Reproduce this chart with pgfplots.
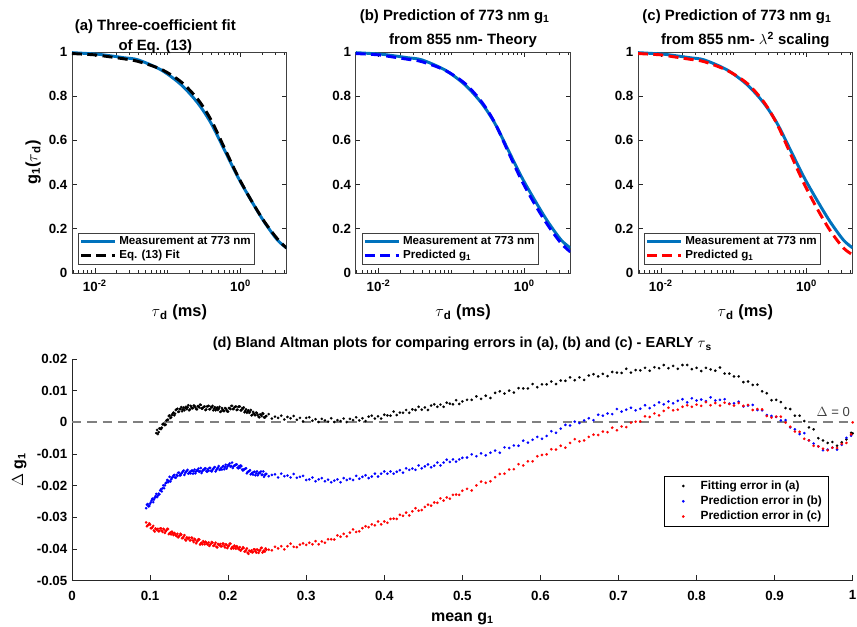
\documentclass[border=0pt]{standalone}
\usepackage{pgfplots}
\pgfplotsset{compat=1.18}
\usepackage{pgfplotstable}
\usepackage{fontspec}
\setmainfont{Liberation Sans}
\definecolor{mblue}{rgb}{0,0.447,0.741}
\definecolor{axgray}{rgb}{0.15,0.15,0.15}

% measured and predicted g1 curves (tau in ms)
\pgfplotstableread{
tau      meas   fita   predb  predc
0.00485  0.997  0.993  0.993  0.993
0.01     0.991  0.987  0.987  0.987
0.01384  0.986  0.981  0.980  0.980
0.02512  0.974  0.969  0.967  0.967
0.03945  0.964  0.957  0.956  0.956
0.0820   0.918  0.921  0.917  0.916
0.1538   0.851  0.864  0.857  0.857
0.2600   0.768  0.785  0.774  0.773
0.3945   0.677  0.692  0.679  0.673
0.5998   0.557  0.566  0.549  0.540
0.912    0.436  0.440  0.421  0.408
1.387    0.330  0.331  0.312  0.293
2.104    0.232  0.234  0.216  0.192
3.206    0.149  0.154  0.134  0.113
4.295    0.113  0.112  0.095  0.082
}\curves

% Bland-Altman: mean g1, error (a), error (b), error (c)
\pgfplotstableread{
x a b c
0.095 nan -0.0271 -0.0316
0.097 nan -0.0258 -0.0325
0.099 nan -0.0264 -0.0319
0.101 nan -0.0252 -0.0334
0.103 nan -0.0241 -0.0331
0.105 nan -0.0244 -0.0341
0.107 nan -0.0233 -0.0335
0.109 -0.0024 -0.0236 -0.0340
0.111 -0.0031 -0.0225 -0.0344
0.113 -0.0020 -0.0215 -0.0335
0.115 -0.0017 -0.0218 -0.0342
0.117 -0.0004 -0.0199 -0.0336
0.119 -0.0009 -0.0199 -0.0349
0.121 0.0006 -0.0190 -0.0341
0.123 0.0008 -0.0189 -0.0337
0.125 0.0022 -0.0172 -0.0350
0.127 0.0016 -0.0180 -0.0354
0.129 0.0027 -0.0173 -0.0350
0.131 0.0022 -0.0166 -0.0349
0.133 0.0039 -0.0175 -0.0357
0.135 0.0043 -0.0169 -0.0352
0.137 0.0034 -0.0159 -0.0360
0.139 0.0042 -0.0167 -0.0352
0.141 0.0035 -0.0159 -0.0366
0.143 0.0047 -0.0152 -0.0361
0.145 0.0045 -0.0160 -0.0370
0.147 0.0042 -0.0154 -0.0363
0.149 0.0054 -0.0162 -0.0367
0.151 0.0041 -0.0156 -0.0373
0.153 0.0048 -0.0153 -0.0364
0.155 0.0045 -0.0162 -0.0373
0.157 0.0052 -0.0149 -0.0368
0.159 0.0042 -0.0155 -0.0382
0.161 0.0051 -0.0152 -0.0374
0.163 0.0047 -0.0156 -0.0370
0.165 0.0055 -0.0144 -0.0382
0.167 0.0043 -0.0154 -0.0385
0.169 0.0049 -0.0150 -0.0379
0.171 0.0039 -0.0145 -0.0377
0.173 0.0050 -0.0156 -0.0384
0.175 0.0052 -0.0153 -0.0379
0.177 0.0042 -0.0144 -0.0386
0.179 0.0047 -0.0155 -0.0378
0.181 0.0038 -0.0147 -0.0390
0.183 0.0048 -0.0141 -0.0385
0.185 0.0043 -0.0150 -0.0393
0.187 0.0039 -0.0143 -0.0384
0.189 0.0049 -0.0150 -0.0388
0.191 0.0035 -0.0144 -0.0392
0.193 0.0040 -0.0140 -0.0383
0.195 0.0036 -0.0148 -0.0390
0.197 0.0044 -0.0134 -0.0385
0.199 0.0034 -0.0140 -0.0397
0.201 0.0045 -0.0135 -0.0389
0.203 0.0042 -0.0140 -0.0383
0.205 0.0052 -0.0127 -0.0395
0.207 0.0042 -0.0139 -0.0398
0.209 0.0049 -0.0136 -0.0393
0.211 0.0039 -0.0133 -0.0391
0.213 0.0049 -0.0145 -0.0399
0.215 0.0050 -0.0143 -0.0394
0.217 0.0038 -0.0138 -0.0402
0.219 0.0043 -0.0152 -0.0394
0.221 0.0032 -0.0148 -0.0408
0.223 0.0041 -0.0145 -0.0403
0.225 0.0035 -0.0157 -0.0412
0.227 0.0030 -0.0154 -0.0405
0.229 0.0039 -0.0164 -0.0408
0.231 0.0024 -0.0159 -0.0411
0.233 0.0028 -0.0157 -0.0401
0.235 0.0023 -0.0167 -0.0407
0.237 0.0029 -0.0155 -0.0401
0.239 0.0017 -0.0162 -0.0412
0.241 0.0025 -0.0160 -0.0403
0.243 0.0020 -0.0166 -0.0396
0.245 0.0027 -0.0155 -0.0407
0.247 0.0015 -0.0167 -0.0408
0.249 0.0020 -0.0163 -0.0402
0.252 0.0026 -0.0170 -0.0402
0.256 0.0012 -0.0166 -0.0404
0.260 0.0018 -0.0164 -0.0393
0.264 0.0014 -0.0174 -0.0398
0.268 0.0021 -0.0162 -0.0391
0.272 0.0009 -0.0170 -0.0401
0.276 0.0017 -0.0168 -0.0391
0.280 0.0013 -0.0174 -0.0383
0.284 0.0020 -0.0163 -0.0393
0.288 0.0008 -0.0175 -0.0394
0.292 0.0014 -0.0172 -0.0386
0.296 0.0003 -0.0169 -0.0382
0.300 0.0014 -0.0182 -0.0387
0.304 0.0016 -0.0180 -0.0380
0.308 0.0005 -0.0174 -0.0385
0.312 0.0010 -0.0186 -0.0375
0.316 0.0001 -0.0180 -0.0385
0.320 0.0011 -0.0176 -0.0376
0.324 0.0006 -0.0186 -0.0380
0.328 0.0002 -0.0181 -0.0369
0.332 0.0013 -0.0189 -0.0369
0.336 0.0001 -0.0184 -0.0370
0.340 0.0007 -0.0180 -0.0357
0.344 0.0004 -0.0189 -0.0361
0.348 0.0012 -0.0176 -0.0352
0.352 0.0001 -0.0182 -0.0360
0.356 0.0011 -0.0178 -0.0348
0.360 0.0007 -0.0182 -0.0338
0.364 0.0016 -0.0169 -0.0346
0.368 0.0006 -0.0178 -0.0344
0.372 0.0013 -0.0172 -0.0334
0.376 0.0004 -0.0167 -0.0328
0.380 0.0018 -0.0176 -0.0331
0.384 0.0021 -0.0171 -0.0322
0.388 0.0012 -0.0162 -0.0325
0.392 0.0019 -0.0171 -0.0313
0.396 0.0012 -0.0162 -0.0322
0.400 0.0024 -0.0155 -0.0313
0.404 0.0022 -0.0162 -0.0317
0.408 0.0021 -0.0155 -0.0305
0.412 0.0034 -0.0162 -0.0304
0.416 0.0023 -0.0156 -0.0305
0.420 0.0031 -0.0151 -0.0292
0.424 0.0030 -0.0159 -0.0295
0.428 0.0039 -0.0145 -0.0285
0.432 0.0030 -0.0150 -0.0294
0.436 0.0041 -0.0146 -0.0281
0.440 0.0039 -0.0150 -0.0271
0.444 0.0049 -0.0136 -0.0279
0.448 0.0040 -0.0145 -0.0277
0.452 0.0047 -0.0139 -0.0267
0.456 0.0039 -0.0133 -0.0260
0.460 0.0053 -0.0142 -0.0263
0.464 0.0057 -0.0137 -0.0253
0.468 0.0049 -0.0127 -0.0254
0.472 0.0056 -0.0136 -0.0240
0.476 0.0049 -0.0127 -0.0247
0.480 0.0062 -0.0118 -0.0237
0.484 0.0059 -0.0125 -0.0241
0.488 0.0057 -0.0117 -0.0229
0.492 0.0070 -0.0124 -0.0228
0.496 0.0058 -0.0117 -0.0229
0.500 0.0066 -0.0112 -0.0216
0.506 0.0071 -0.0111 -0.0210
0.512 0.0071 -0.0101 -0.0215
0.518 0.0082 -0.0107 -0.0199
0.524 0.0074 -0.0098 -0.0187
0.530 0.0084 -0.0104 -0.0191
0.536 0.0077 -0.0096 -0.0186
0.542 0.0093 -0.0089 -0.0173
0.548 0.0098 -0.0096 -0.0163
0.554 0.0091 -0.0079 -0.0162
0.560 0.0100 -0.0081 -0.0149
0.566 0.0094 -0.0073 -0.0148
0.572 0.0108 -0.0074 -0.0132
0.578 0.0107 -0.0058 -0.0136
0.584 0.0107 -0.0064 -0.0123
0.590 0.0121 -0.0055 -0.0123
0.596 0.0111 -0.0046 -0.0107
0.602 0.0120 -0.0052 -0.0103
0.608 0.0120 -0.0043 -0.0101
0.614 0.0129 -0.0028 -0.0085
0.620 0.0121 -0.0033 -0.0086
0.626 0.0132 -0.0020 -0.0074
0.632 0.0131 -0.0008 -0.0080
0.638 0.0142 -0.0010 -0.0065
0.644 0.0133 0.0002 -0.0053
0.650 0.0142 -0.0002 -0.0060
0.656 0.0134 0.0006 -0.0057
0.662 0.0148 0.0013 -0.0046
0.668 0.0152 0.0007 -0.0039
0.674 0.0145 0.0024 -0.0040
0.680 0.0153 0.0021 -0.0029
0.686 0.0146 0.0028 -0.0031
0.692 0.0159 0.0026 -0.0017
0.698 0.0157 0.0042 -0.0025
0.704 0.0156 0.0034 -0.0013
0.710 0.0169 0.0040 -0.0015
0.716 0.0157 0.0046 -0.0001
0.722 0.0165 0.0038 0.0002
0.728 0.0164 0.0043 0.0003
0.734 0.0172 0.0054 0.0019
0.740 0.0163 0.0045 0.0017
0.746 0.0174 0.0054 0.0028
0.752 0.0171 0.0063 0.0022
0.758 0.0181 0.0057 0.0036
0.764 0.0171 0.0066 0.0046
0.770 0.0178 0.0060 0.0038
0.776 0.0169 0.0068 0.0040
0.782 0.0181 0.0073 0.0049
0.788 0.0181 0.0063 0.0054
0.794 0.0168 0.0076 0.0049
0.800 0.0172 0.0069 0.0056
0.806 0.0162 0.0072 0.0052
0.812 0.0172 0.0067 0.0064
0.818 0.0167 0.0079 0.0054
0.824 0.0163 0.0069 0.0061
0.830 0.0173 0.0071 0.0053
0.836 0.0154 0.0073 0.0062
0.842 0.0154 0.0059 0.0058
0.848 0.0145 0.0060 0.0053
0.854 0.0145 0.0065 0.0061
0.860 0.0127 0.0050 0.0052
0.866 0.0129 0.0053 0.0055
0.872 0.0118 0.0055 0.0039
0.878 0.0119 0.0039 0.0042
0.884 0.0098 0.0038 0.0041
0.890 0.0092 0.0023 0.0020
0.896 0.0070 0.0020 0.0015
0.902 0.0071 0.0017 0.0018
0.908 0.0064 0.0006 0.0018
0.914 0.0045 0.0007 -0.0001
0.920 0.0042 -0.0016 -0.0014
0.926 0.0021 -0.0022 -0.0029
0.932 0.0021 -0.0037 -0.0030
0.938 0.0004 -0.0034 -0.0052
0.944 -0.0016 -0.0057 -0.0057
0.950 -0.0022 -0.0067 -0.0074
0.956 -0.0050 -0.0076 -0.0076
0.962 -0.0057 -0.0088 -0.0083
0.968 -0.0065 -0.0086 -0.0088
0.974 -0.0062 -0.0080 -0.0080
0.980 -0.0074 -0.0086 -0.0081
0.986 -0.0063 -0.0071 -0.0068
0.992 -0.0054 -0.0049 -0.0065
0.998 -0.0033 -0.0042 -0.0038
1.000 -0.0035 nan 0.0000
0.096 nan -0.0260 -0.0328
0.098 nan -0.0265 -0.0323
0.100 nan -0.0257 -0.0323
0.102 nan -0.0246 -0.0334
0.104 nan -0.0252 -0.0327
0.106 nan -0.0238 -0.0345
0.108 -0.0034 -0.0226 -0.0338
0.110 -0.0037 -0.0231 -0.0336
0.112 -0.0019 -0.0227 -0.0343
0.114 -0.0021 -0.0211 -0.0335
0.116 -0.0006 -0.0208 -0.0346
0.118 -0.0007 -0.0208 -0.0339
0.120 -0.0007 -0.0192 -0.0344
0.122 0.0008 -0.0182 -0.0336
0.124 0.0020 -0.0185 -0.0353
0.126 0.0014 -0.0187 -0.0348
0.128 0.0023 -0.0175 -0.0345
0.130 0.0031 -0.0168 -0.0356
0.132 0.0027 -0.0174 -0.0352
0.134 0.0041 -0.0166 -0.0359
0.136 0.0033 -0.0159 -0.0363
0.138 0.0042 -0.0167 -0.0357
0.140 0.0048 -0.0162 -0.0355
0.142 0.0041 -0.0155 -0.0365
0.144 0.0038 -0.0166 -0.0356
0.146 0.0049 -0.0156 -0.0373
0.148 0.0047 -0.0150 -0.0366
0.150 0.0038 -0.0160 -0.0364
0.152 0.0052 -0.0161 -0.0372
0.154 0.0044 -0.0152 -0.0365
0.156 0.0053 -0.0155 -0.0378
0.158 0.0047 -0.0161 -0.0371
0.160 0.0041 -0.0151 -0.0377
0.162 0.0050 -0.0146 -0.0369
0.164 0.0056 -0.0154 -0.0386
0.166 0.0044 -0.0160 -0.0380
0.168 0.0047 -0.0150 -0.0375
0.170 0.0050 -0.0146 -0.0385
0.172 0.0041 -0.0154 -0.0380
0.174 0.0051 -0.0148 -0.0386
0.176 0.0041 -0.0144 -0.0390
0.178 0.0049 -0.0153 -0.0383
0.180 0.0052 -0.0150 -0.0380
0.182 0.0043 -0.0143 -0.0389
0.184 0.0038 -0.0155 -0.0380
0.186 0.0047 -0.0146 -0.0395
0.188 0.0043 -0.0138 -0.0387
0.190 0.0033 -0.0148 -0.0384
0.192 0.0045 -0.0149 -0.0391
0.194 0.0036 -0.0138 -0.0383
0.196 0.0045 -0.0141 -0.0395
0.198 0.0039 -0.0146 -0.0387
0.200 0.0034 -0.0135 -0.0392
0.202 0.0045 -0.0130 -0.0383
0.204 0.0052 -0.0138 -0.0399
0.206 0.0042 -0.0144 -0.0393
0.208 0.0047 -0.0136 -0.0389
0.210 0.0050 -0.0133 -0.0399
0.212 0.0040 -0.0143 -0.0394
0.214 0.0050 -0.0138 -0.0401
0.216 0.0038 -0.0136 -0.0405
0.218 0.0045 -0.0149 -0.0399
0.220 0.0047 -0.0149 -0.0397
0.222 0.0036 -0.0146 -0.0407
0.224 0.0030 -0.0161 -0.0398
0.226 0.0038 -0.0155 -0.0415
0.228 0.0033 -0.0151 -0.0407
0.230 0.0022 -0.0162 -0.0404
0.232 0.0033 -0.0165 -0.0409
0.234 0.0023 -0.0156 -0.0401
0.236 0.0031 -0.0161 -0.0411
0.238 0.0023 -0.0167 -0.0403
0.240 0.0016 -0.0159 -0.0406
0.242 0.0024 -0.0155 -0.0397
0.244 0.0029 -0.0165 -0.0411
0.246 0.0016 -0.0172 -0.0404
0.248 0.0019 -0.0163 -0.0398
}\scat

\pgfplotsset{
  dotlegend/.style={legend image code/.code={%
    \path[draw=none, fill=none] (0pt,-1pt) rectangle (22pt,1pt);
    \draw[mark repeat=2,mark phase=2,##1] plot coordinates {(0pt,0pt) (11pt,0pt) (22pt,0pt)};}},
  topax/.style={
    scale only axis, width=161pt, height=165.75pt,
    xmin=0.00485, xmax=4.3, ymin=-0.0005, ymax=1,
    xtick={0.01,1},
    xticklabels={10\textsuperscript{-2},10\textsuperscript{0}},
    minor xtick={0.005,0.006,0.007,0.008,0.009,0.02,0.03,0.04,0.05,0.06,0.07,0.08,0.09,0.1,0.2,0.3,0.4,0.5,0.6,0.7,0.8,0.9,2,3,4},
    ytick={0,0.2,0.4,0.6,0.8,1},
    yticklabels={0,0.2,0.4,0.6,0.8,1},
    tick align=inside,
    major tick length=3.5pt, minor tick length=2pt,
    tick style={axgray, line width=0.5pt},
    axis line style={black!75, line width=0.6pt},
    ticklabel style={font=\bfseries\fontsize{10}{12}\selectfont, text=black},
    xticklabel style={yshift=-1.5pt},
    title style={font=\bfseries\fontsize{11.2}{15.5}\selectfont, align=center},
    label style={font=\bfseries\fontsize{12.3}{14}\selectfont},
    xlabel={$\tau$\textsubscript{d} (ms)},
    xlabel style={yshift=-3pt},
    legend style={at={(axis description cs:0.028,0.036)}, anchor=south west,
      draw=black!75, line width=0.5pt, fill=white,
      font=\bfseries\fontsize{8.7}{10}\selectfont,
      inner xsep=1pt, inner ysep=1pt, row sep=-1.5pt},
    legend cell align=left,
    legend image code/.code={\draw[##1] (0pt,0pt) -- (25.5pt,0pt);},
  },
}

\begin{document}
\begin{tikzpicture}
\path[use as bounding box] (0,0) rectangle (642.75pt,470.25pt);

% (a)
\begin{axis}[xmode=log, topax, at={(54pt,265.5pt)}, anchor=south west,
  title style={yshift=-11pt, xshift=-18pt},
  title={(a) Three-coefficient fit\\of Eq. (13)},
  ylabel={g\textsubscript{1}($\tau$\textsubscript{d})},
  ylabel style={yshift=-1pt}]
\addplot[mblue, line width=2.2pt, smooth] table[x=tau, y=meas] {\curves};
\addlegendentry{Measurement at 773 nm}
\addplot[black, line width=2.2pt, dash pattern=on 7.5pt off 4pt, smooth] table[x=tau, y=fita] {\curves};
\addlegendentry{Eq. (13) Fit}
\end{axis}

% (b)
\begin{axis}[xmode=log, topax, at={(266.8pt,265.5pt)}, anchor=south west,
  title style={yshift=-6.5pt},
  title={\hspace*{-12.5pt}(b) Prediction of 773 nm g\textsubscript{1}\\[3pt]from 855 nm- Theory}]
\addplot[mblue, line width=2.2pt, smooth] table[x=tau, y=meas] {\curves};
\addlegendentry{Measurement at 773 nm}
\addplot[blue, line width=2.2pt, dash pattern=on 7.5pt off 4pt, smooth] table[x=tau, y=predb] {\curves};
\addlegendentry{Predicted g\textsubscript{1}}
\end{axis}

% (c)
\begin{axis}[xmode=log, topax, at={(478.5pt,265.5pt)}, anchor=south west,
  title style={yshift=-6.5pt},
  title={\hspace*{-12.5pt}(c) Prediction of 773 nm g\textsubscript{1}\\[3pt]from 855 nm- $\lambda$\textsuperscript{2} scaling}]
\addplot[mblue, line width=2.2pt, smooth] table[x=tau, y=meas] {\curves};
\addlegendentry{Measurement at 773 nm}
\addplot[red, line width=2.2pt, dash pattern=on 7.5pt off 4pt, smooth] table[x=tau, y=predc] {\curves};
\addlegendentry{Predicted g\textsubscript{1}}
\end{axis}

% (d)
\begin{axis}[scale only axis, at={(54pt,34.7pt)}, anchor=south west,
  width=585.5pt, height=166.3pt,
  xmin=0, xmax=1, ymin=-0.05, ymax=0.02,
  scaled y ticks=false, scaled x ticks=false,
  axis x line*=bottom, axis y line*=left,
  axis line style={axgray, line width=0.6pt},
  xtick={0,0.1,0.2,0.3,0.4,0.5,0.6,0.7,0.8,0.9,1},
  xticklabels={0,0.1,0.2,0.3,0.4,0.5,0.6,0.7,0.8,0.9,1},
  ytick={-0.05,-0.04,-0.03,-0.02,-0.01,0,0.01,0.02},
  yticklabels={-0.05,-0.04,-0.03,-0.02,-0.01,0,0.01,0.02},
  tick align=inside, major tick length=4pt,
  tick style={axgray, line width=0.5pt},
  ticklabel style={font=\bfseries\fontsize{10}{12}\selectfont},
  xticklabel style={yshift=-4pt},
  title style={font=\bfseries\fontsize{10.9}{12}\selectfont, yshift=-3.5pt},
  label style={font=\bfseries\fontsize{12}{14}\selectfont},
  title={(d) Bland Altman plots for comparing errors in (a), (b) and (c) - EARLY $\tau$\textsubscript{s}},
  xlabel={mean g\textsubscript{1}},
  ylabel={$\Delta$ g\textsubscript{1}},
  xlabel style={yshift=-2.5pt},
  ylabel style={yshift=1pt},
  clip=false,
  legend style={at={(axis description cs:0.9696,0.4736)}, anchor=north east,
    draw=black, line width=0.5pt, fill=white,
    font=\bfseries\fontsize{8.9}{11}\selectfont,
    inner xsep=3pt, inner ysep=1.5pt, row sep=-0.5pt},
  legend cell align=left]
\addplot[gray, line width=1.5pt, dash pattern=on 7pt off 4.5pt, forget plot] coordinates {(0,0) (1,0)};
\addplot[only marks, mark=*, mark size=0.95pt, black, mark options={fill=black, draw=black, line width=0.1pt}, dotlegend] table[x=x, y=a] {\scat};
\addlegendentry{Fitting error in (a)}
\addplot[only marks, mark=*, mark size=0.95pt, blue, mark options={fill=blue, draw=blue, line width=0.1pt}, dotlegend] table[x=x, y=b] {\scat};
\addlegendentry{Prediction error in (b)}
\addplot[only marks, mark=*, mark size=0.95pt, red, mark options={fill=red, draw=red, line width=0.1pt}, dotlegend] table[x=x, y=c] {\scat};
\addlegendentry{Prediction error in (c)}
\node[font=\fontsize{9.8}{11}\selectfont, text=black!75] at (axis cs:0.975,0.0033) {$\Delta$ = 0};
\end{axis}
\end{tikzpicture}
\end{document}
